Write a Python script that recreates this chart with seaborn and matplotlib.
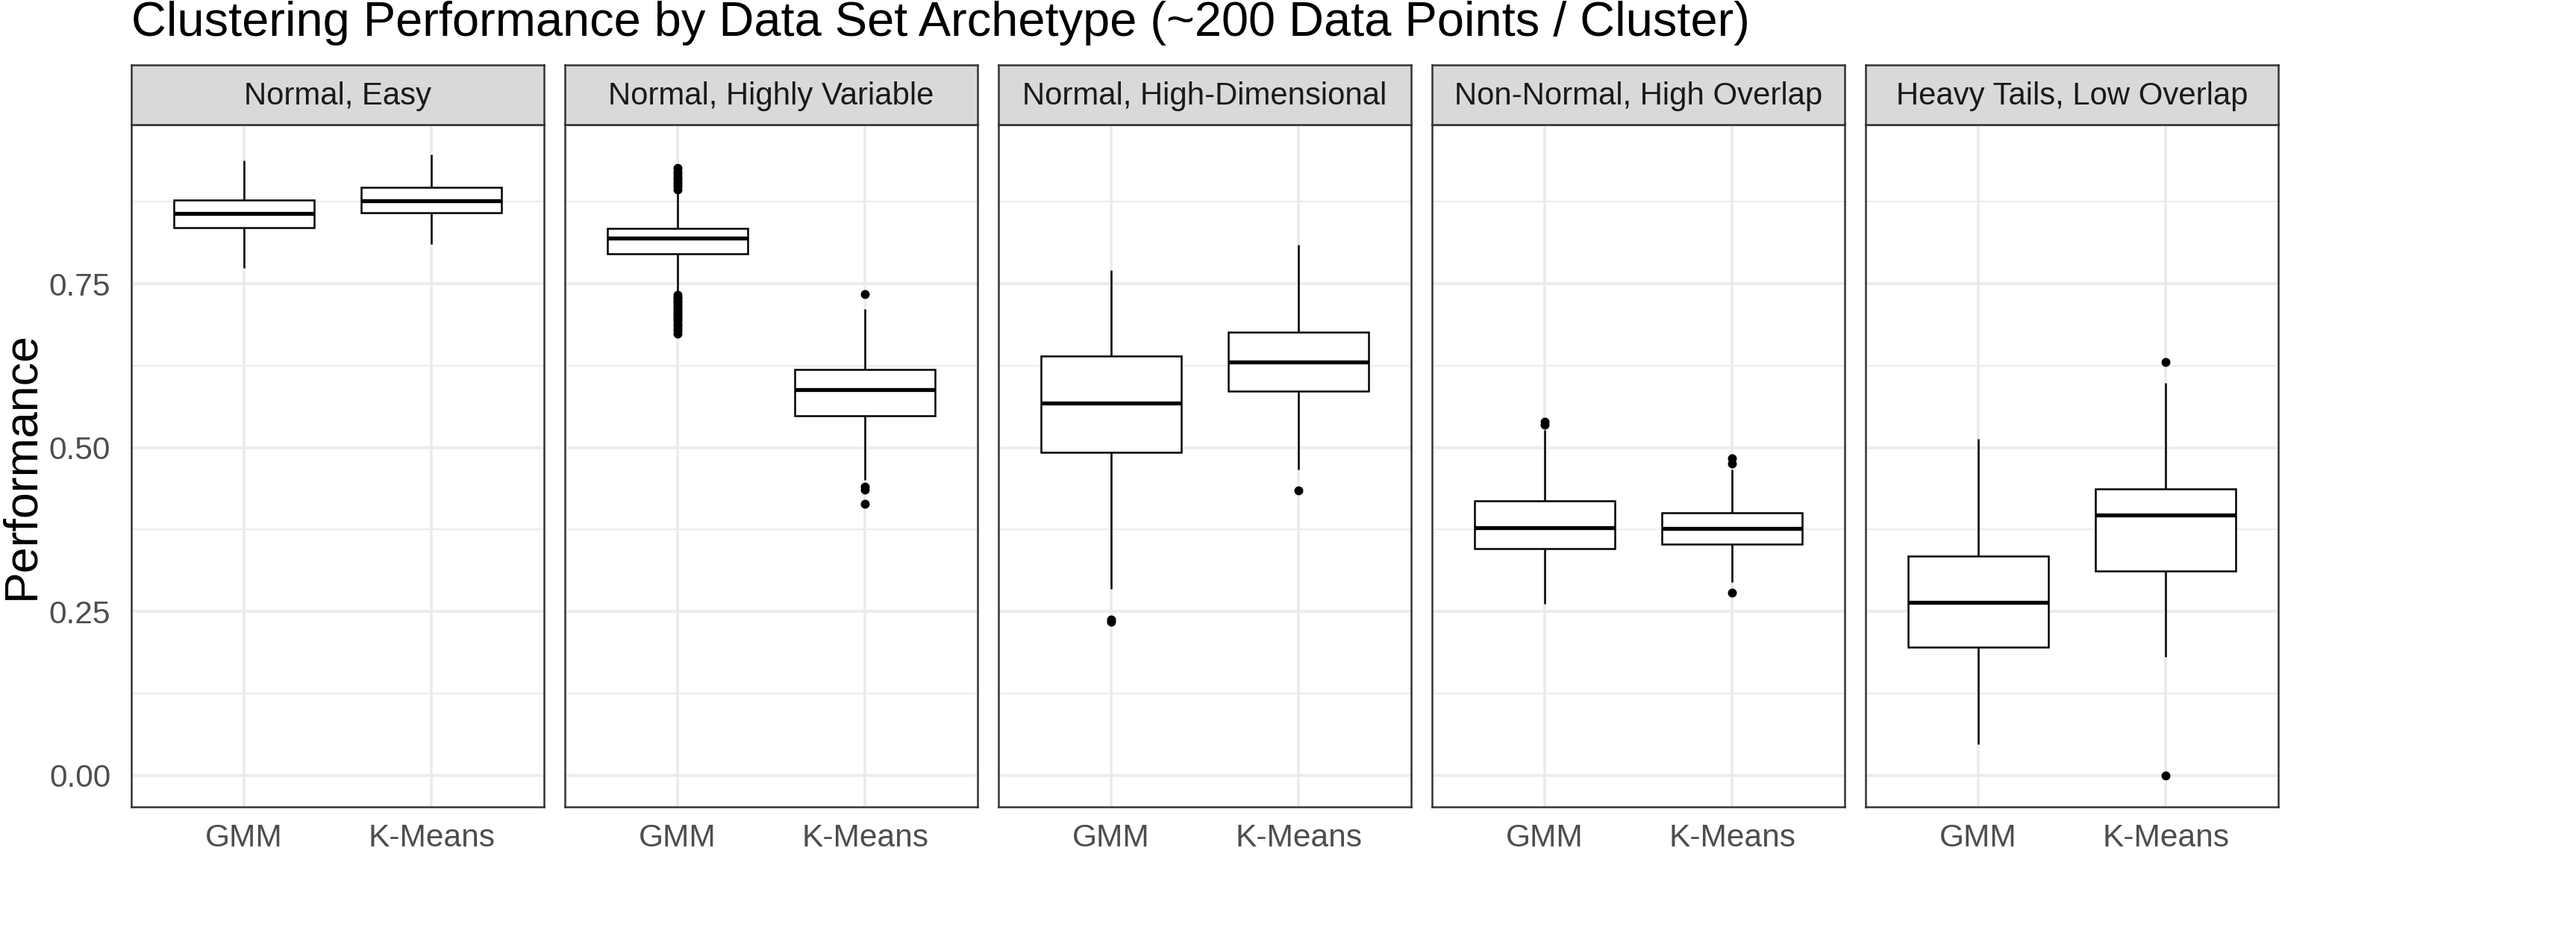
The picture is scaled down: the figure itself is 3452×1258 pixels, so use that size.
import pandas as pd
import numpy as np
import matplotlib
matplotlib.use("Agg")
import matplotlib.pyplot as plt
from matplotlib.ticker import FixedLocator
import seaborn as sns

ARCHETYPES = ["Normal, Easy", "Normal, Highly Variable", "Normal, High-Dimensional",
              "Non-Normal, High Overlap", "Heavy Tails, Low Overlap"]
METHODS = ["GMM", "K-Means"]

# box summaries per archetype: [GMM, K-Means]
WHISKER_LOW  = [[0.774, 0.810], [0.739, 0.450], [0.284, 0.466], [0.261, 0.295], [0.047, 0.181]]
Q1           = [[0.836, 0.858], [0.796, 0.549], [0.493, 0.586], [0.346, 0.353], [0.195, 0.312]]
MEDIAN       = [[0.857, 0.876], [0.819, 0.588], [0.568, 0.631], [0.378, 0.376], [0.264, 0.397]]
Q3           = [[0.878, 0.897], [0.834, 0.619], [0.639, 0.676], [0.419, 0.400], [0.334, 0.437]]
WHISKER_HIGH = [[0.938, 0.947], [0.890, 0.711], [0.771, 0.809], [0.527, 0.466], [0.513, 0.598]]

OUTLIERS_GMM = [
    [],
    [0.927, 0.921, 0.917, 0.913, 0.909, 0.905, 0.901, 0.898, 0.894,
     0.733, 0.730, 0.727, 0.724, 0.721, 0.718, 0.715, 0.712, 0.709, 0.706,
     0.703, 0.700, 0.697, 0.694, 0.690, 0.686, 0.682, 0.678, 0.674],
    [0.237, 0.234],
    [0.539, 0.535],
    [],
]
OUTLIERS_KMEANS = [
    [],
    [0.734, 0.440, 0.436, 0.414],
    [0.435],
    [0.483, 0.476, 0.278],
    [0.631, 0.000],
]

Y_TICKS = [0.00, 0.25, 0.50, 0.75]
Y_TICK_LABELS = ["0.00", "0.25", "0.50", "0.75"]

sns.set_theme(style="white")
plt.rcParams["font.family"] = ["Liberation Sans", "DejaVu Sans"]

GRID = "#EBEBEB"
DARK = "#333333"

W, H = 3452, 1258
fig = plt.figure(figsize=(W / 200, H / 200), dpi=200)

left0, period, pw = 176 / W, 581 / W, 553 / W
ax_bottom, ax_top = 1 - 1080.5 / H, 1 - 166.5 / H
strip_top = 1 - 87.3 / H

for i, name in enumerate(ARCHETYPES):
    rows = []
    for j, m in enumerate(METHODS):
        for v in (WHISKER_LOW[i][j], Q1[i][j], MEDIAN[i][j], Q3[i][j], WHISKER_HIGH[i][j]):
            rows.append({"method": m, "value": v})
    box_df = pd.DataFrame(rows)
    out_df = pd.DataFrame(
        [{"method": "GMM", "value": v} for v in OUTLIERS_GMM[i]] +
        [{"method": "K-Means", "value": v} for v in OUTLIERS_KMEANS[i]]
    )

    x0 = left0 + i * period
    ax = fig.add_axes([x0, ax_bottom, pw, ax_top - ax_bottom])
    ax.set_axisbelow(True)

    sns.boxplot(data=box_df, x="method", y="value", order=METHODS, ax=ax,
                color="white", saturation=1, linecolor="black", linewidth=0.9,
                width=0.75, whis=(0, 100), showcaps=False, showfliers=False,
                medianprops=dict(linewidth=1.9, color="black"))
    if len(out_df):
        sns.stripplot(data=out_df, x="method", y="value", order=METHODS, ax=ax,
                      jitter=False, color="black", size=4.3, linewidth=0, zorder=3)

    ax.set_xlim(-0.6, 1.6)
    ax.set_ylim(-0.0478, 0.9932)
    ax.yaxis.set_major_locator(FixedLocator(Y_TICKS))
    ax.yaxis.set_minor_locator(FixedLocator([0.125, 0.375, 0.625, 0.875]))
    ax.grid(True, which="major", axis="both", color=GRID, linewidth=1.3)
    ax.grid(True, which="minor", axis="y", color=GRID, linewidth=0.7)
    ax.set_xlabel("")
    ax.set_ylabel("")
    ax.set_xticks([0, 1])
    ax.set_xticklabels(METHODS)
    ax.tick_params(axis="both", which="major", length=5, width=1.1, color=DARK,
                   labelsize=15.3, labelcolor="#4D4D4D")
    ax.tick_params(axis="x", pad=3.2)
    ax.tick_params(axis="y", pad=5)
    ax.tick_params(which="minor", length=0)
    if i == 0:
        ax.set_yticklabels(Y_TICK_LABELS)
    else:
        ax.tick_params(axis="y", length=0, labelleft=False)
    for s in ax.spines.values():
        s.set_visible(True)
        s.set_color(DARK)
        s.set_linewidth(0.9)

    # facet strip
    sax = fig.add_axes([x0, ax_top, pw, strip_top - ax_top])
    sax.set_facecolor("#D9D9D9")
    sax.set_xticks([])
    sax.set_yticks([])
    for s in sax.spines.values():
        s.set_visible(True)
        s.set_color(DARK)
        s.set_linewidth(0.9)
    sax.text(0.5, 0.47, name, ha="center", va="center", fontsize=15.1,
             color="#1A1A1A", transform=sax.transAxes)

fig.text(left0, 1 - 47.8 / H,
         "Clustering Performance by Data Set Archetype (~200 Data Points / Cluster)",
         ha="left", va="baseline", fontsize=23.4, color="black")
fig.text(45 / W, 1 - 623.5 / H, "Performance", rotation=90, rotation_mode="anchor",
         ha="center", va="baseline", fontsize=22.6, color="black")

fig.savefig("out.png", dpi=200, facecolor="white")
